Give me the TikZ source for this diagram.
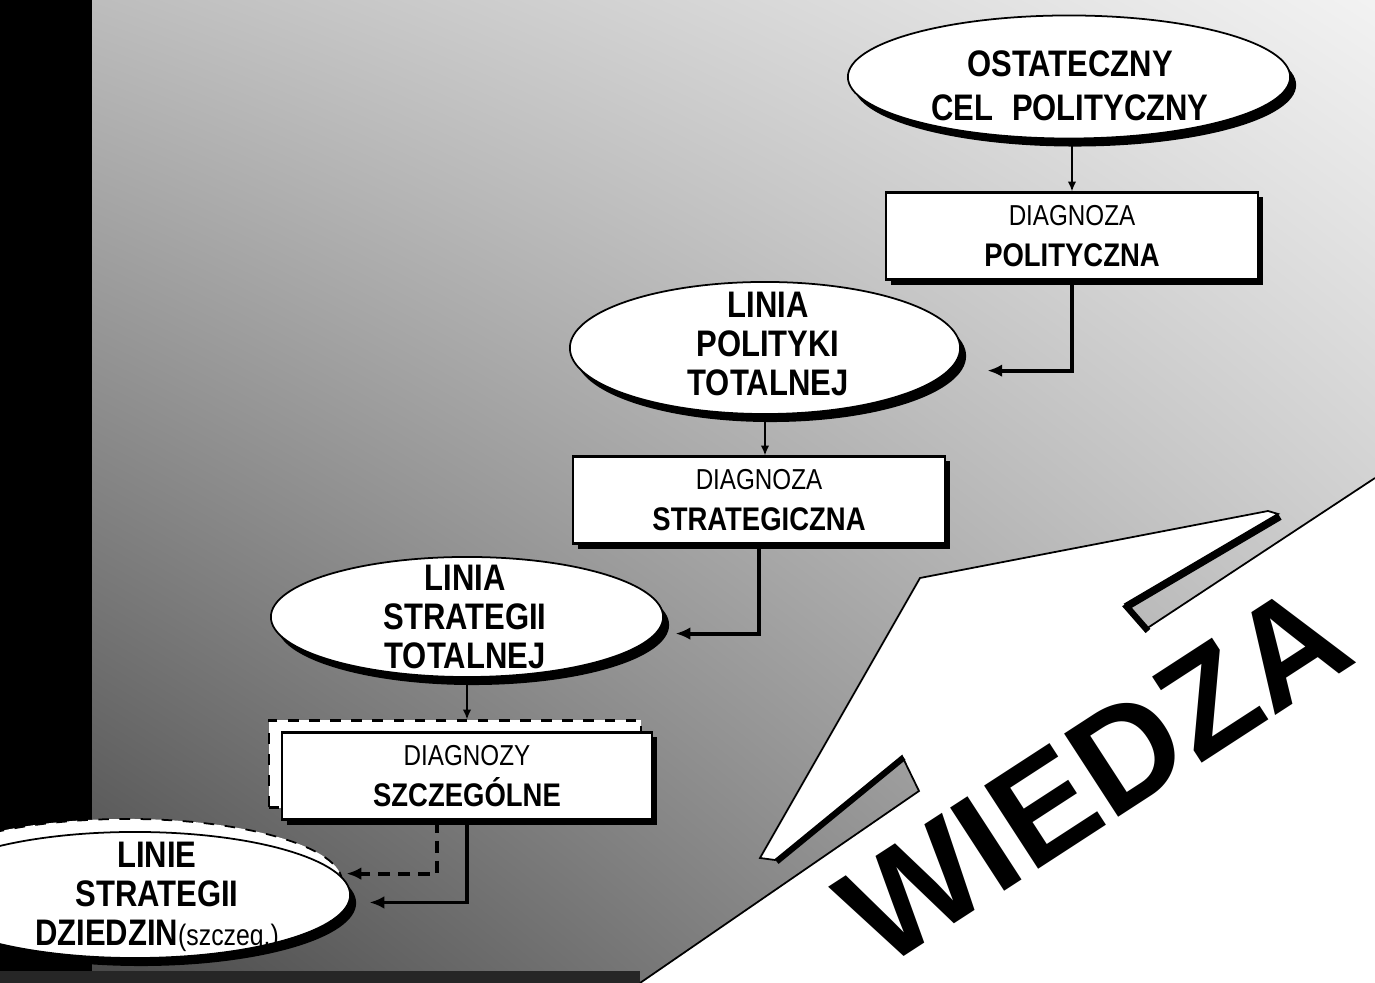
\documentclass[tikz,border=0pt]{standalone}
\usepackage{fontspec}
\setmainfont{Liberation Sans}
\newfontfamily\narrowsans{Liberation Sans}[FakeStretch=0.84]
\usetikzlibrary{shapes.geometric, positioning, shadows, shadings, arrows.meta}

\tikzset{
  oval/.style={draw, ellipse, fill=white, line width=0.5pt, inner sep=0pt,
    drop shadow={shadow xshift=0.06cm, shadow yshift=-0.08cm, fill=black, opacity=1}},
  diagbox/.style={draw, rectangle, fill=white, line width=0.6pt, align=center,
    minimum width=3.72cm, minimum height=0.87cm, inner sep=0pt,
    font=\narrowsans\fontsize{8.2}{11.8}\selectfont,
    drop shadow={shadow xshift=0.05cm, shadow yshift=-0.05cm, fill=black, opacity=1}},
  bigtext/.style={align=center, font=\narrowsans\bfseries\fontsize{10.5}{11}\selectfont},
  flow/.style={-{Latex[length=4.2pt, width=3.6pt]}, line width=1.1pt},
  link/.style={-{Latex[length=2.8pt, width=2.4pt]}, line width=0.45pt},
}

\begin{document}
\begin{tikzpicture}[x=0.01cm, y=-0.01cm]
\useasboundingbox (0,0) rectangle (1375,983);
\clip (0,0) rectangle (1375,983);

% tlo slajdu
\shade[upper left=black!26, upper right=black!5, lower left=black!72, lower right=black!30]
  (92,0) rectangle (1375,983);
\fill[black] (0,0) rectangle (92,983);
\fill[black!85] (0,971) rectangle (640,983);

% blyskawica
\fill[white] (640,983) -- (919,791) -- (902,756) -- (775,860) -- (760,858) -- (920,578)
  -- (1268,511) -- (1278,514) -- (1125,604) -- (1146,629) -- (1375,478) -- (1375,983) -- cycle;
\draw[line width=0.5pt] (640,983) -- (919,791) -- (902,756) -- (775,860) -- (760,858)
  -- (920,578) -- (1268,511) -- (1278,514) -- (1125,604) -- (1146,629) -- (1375,478);
\draw[line width=1.4pt] (904,758) -- (777,862);
\draw[line width=1.8pt] (1280,517) -- (1127,607) -- (1148,631);
\node[rotate=33, font=\bfseries\fontsize{41}{41}\selectfont] (wiedza) at (1094,774) {WIEDZA};

% elipsy i prostokaty
\node[oval, minimum width=4.42cm, minimum height=1.23cm] (cel) at (1069,77) {};
\node[bigtext, font=\narrowsans\bfseries\fontsize{10.5}{12.5}\selectfont] (celtxt) at (1070,86)
  {OSTATECZNY\\CEL\enspace POLITYCZNY};

\node[diagbox] (diagpol) at (1072,236) {DIAGNOZA\\{\bfseries\fontsize{9.3}{11.8}\selectfont POLITYCZNA}};

\node[oval, minimum width=3.9cm, minimum height=1.32cm] (polityka) at (765,348) {};
\node[bigtext] (politykatxt) at (768,344) {LINIA\\POLITYKI\\TOTALNEJ};

\node[diagbox] (diagstrat) at (759,500) {DIAGNOZA\\{\bfseries\fontsize{9.3}{11.8}\selectfont STRATEGICZNA}};

\node[oval, minimum width=3.92cm, minimum height=1.2cm] (strategia) at (467,617) {};
\node[bigtext] (strategiatxt) at (465,617) {LINIA\\STRATEGII\\TOTALNEJ};

\node[draw, dashed, fill=white, line width=0.6pt, minimum width=3.72cm, minimum height=0.87cm]
  (diagszczback) at (455,764) {};
\node[diagbox, minimum width=3.7cm] (diagszcz) at (467,776) {DIAGNOZY\\{\bfseries\fontsize{9.3}{11.8}\selectfont SZCZEG\'OLNE}};

\node[draw, dashed, ellipse, fill=white, line width=0.5pt, minimum width=4.3cm, minimum height=1.26cm]
  (dziedzinyback) at (127,882) {};
\node[oval, minimum width=4.3cm, minimum height=1.26cm] (dziedziny) at (135,895) {};
\node[bigtext] (dziedzinytxt) at (157,897)
  {LINIE\\STRATEGII\\DZIEDZIN{\mdseries\fontsize{8.4}{11}\selectfont(szczeg.)}};

% strzalki
\draw[link] (diagpol.north |- cel.south) -- (diagpol.north);
\draw[flow, shorten >=0.38cm] (diagpol.south) |- (polityka.-7);
\draw[link] (polityka.south) -- (polityka.south |- diagstrat.north);
\draw[flow, shorten >=0.19cm] (diagstrat.south) |- (strategia.-5);
\draw[link] (strategia.south) -- (strategia.south |- diagszczback.north);
\draw[flow, dash pattern=on 0.12cm off 0.08cm, shorten >=0.08cm]
  ([xshift=-0.3cm]diagszcz.south) |- (dziedziny.6);
\draw[flow, shorten >=0.2cm] (diagszcz.south) |- (dziedziny.-2);

\end{tikzpicture}
\end{document}
